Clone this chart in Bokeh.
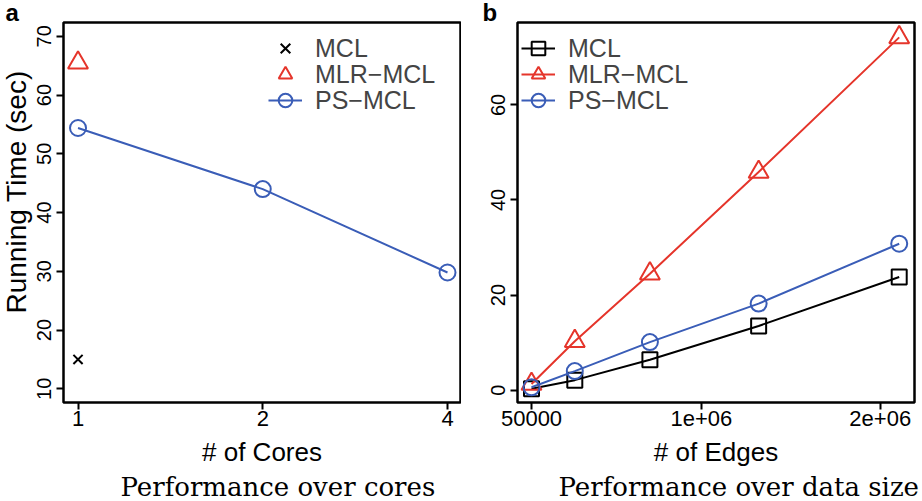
import math
from bokeh.plotting import figure
from bokeh.models import FixedTicker, Legend, LegendItem, Range1d, Title
from bokeh.layouts import row
from bokeh.embed import file_html
from bokeh.resources import INLINE

# ---- data ----
cores = [1, 2, 4]
ps_cores = [54.4, 44.0, 29.8]
mlr_cores_x = [1]
mlr_cores = [65.5]
mcl_cores_x = [1]
mcl_cores = [15.0]

edges = [50000, 292000, 712000, 1320000, 2106000]
mcl_edges = [0.3, 2.1, 6.4, 13.5, 23.8]
mlr_edges = [1.3, 10.3, 24.5, 45.9, 74.2]
ps_edges = [0.6, 4.0, 10.1, 18.2, 30.8]

core_ticks = [1, 2, 4]
core_tick_labels = ["1", "2", "4"]
time_ticks_a = [10, 20, 30, 40, 50, 60, 70]
edge_ticks = [50000, 1000000, 2000000]
edge_tick_labels = ["50000", "1e+06", "2e+06"]
time_ticks_b = [0, 20, 40, 60]

RED = "#e5352b"
BLUE = "#3a5db7"
BLACK = "#000000"
SANS = "Liberation Sans"
SERIF = "DejaVu Serif"


def style(p):
    p.background_fill_color = "white"
    p.border_fill_color = "white"
    p.outline_line_color = "black"
    p.outline_line_width = 2.5
    p.xgrid.visible = False
    p.ygrid.visible = False
    for ax in (p.xaxis[0], p.yaxis[0]):
        ax.axis_line_color = None
        ax.major_tick_line_width = 2
        ax.major_tick_line_color = "black"
        ax.major_tick_out = 7
        ax.major_tick_in = 0
        ax.minor_tick_line_color = None
        ax.major_label_text_font = SANS
        ax.major_label_text_color = "black"
    p.xaxis[0].major_label_text_font_size = "22px"
    p.yaxis[0].major_label_text_font_size = "20px"
    p.yaxis[0].major_label_orientation = "vertical"
    p.yaxis[0].major_label_standoff = 5
    p.xaxis[0].major_label_standoff = 1
    p.xaxis[0].axis_label_standoff = 8
    p.xaxis[0].axis_label_text_font = SANS
    p.xaxis[0].axis_label_text_font_size = "26px"
    p.xaxis[0].axis_label_text_font_style = "normal"
    p.xaxis[0].axis_label_text_color = "black"


def title(p, text, side, size, offset, standoff, font=SANS, bold=False, valign="bottom"):
    p.add_layout(Title(text=text, align="left", offset=offset, standoff=standoff,
                       vertical_align=valign,
                       text_font=font, text_font_size=size,
                       text_font_style="bold" if bold else "normal",
                       text_color="black"), side)


def legend_row(p, item, vx, vy):
    lg = Legend(items=[item], location=(vx, vy), padding=0, margin=0, spacing=0,
                glyph_width=34, glyph_height=34, label_height=34, label_standoff=13,
                label_text_font=SANS, label_text_font_size="25px",
                border_line_alpha=0, background_fill_alpha=0)
    p.add_layout(lg)


# ---- panel a ----
pa = figure(width=461, height=501, x_axis_type="log",
            x_range=Range1d(0.947, 4.2), y_range=Range1d(7.67, 72.36),
            output_backend="svg", toolbar_location=None,
            min_border_left=63, min_border_right=1, min_border_top=10, min_border_bottom=60)
style(pa)
pa.xaxis[0].ticker = FixedTicker(ticks=core_ticks)
pa.xaxis[0].major_label_overrides = dict(zip(core_ticks, core_tick_labels))
pa.xaxis[0].axis_label = "# of Cores"
pa.yaxis[0].ticker = FixedTicker(ticks=time_ticks_a)

a_ps_l = pa.line(cores, ps_cores, line_color=BLUE, line_width=2)
a_ps_s = pa.scatter(cores, ps_cores, marker="circle", size=16, fill_color=None,
                    line_color=BLUE, line_width=2)
a_mlr = pa.scatter(mlr_cores_x, mlr_cores, marker="triangle", size=20, fill_color=None,
                   line_color=RED, line_width=2)
a_mcl = pa.scatter(mcl_cores_x, mcl_cores, marker="x", size=13, line_color=BLACK, line_width=2)

legend_row(pa, LegendItem(label="MCL", renderers=[a_mcl]), 205, 337)
legend_row(pa, LegendItem(label="MLR\u2212MCL", renderers=[a_mlr]), 205, 311)
legend_row(pa, LegendItem(label="PS\u2212MCL", renderers=[a_ps_l, a_ps_s]), 205, 285)

title(pa, "a", "above", "24px", -58, -7.5, bold=True)
title(pa, "Running Time (sec)", "left", "28px", 89, 1, valign="top")
title(pa, "Performance over cores", "below", "26px", 57, 0, font=SERIF)

# ---- panel b ----
pb = figure(width=461, height=501,
            x_range=Range1d(-28390, 2191490), y_range=Range1d(-2.6, 77.33),
            output_backend="svg", toolbar_location=None,
            min_border_left=56, min_border_right=8, min_border_top=10, min_border_bottom=60)
style(pb)
pb.xaxis[0].ticker = FixedTicker(ticks=edge_ticks)
pb.xaxis[0].major_label_overrides = dict(zip(edge_ticks, edge_tick_labels))
pb.xaxis[0].axis_label = "# of Edges"
pb.yaxis[0].ticker = FixedTicker(ticks=time_ticks_b)

b_mcl_l = pb.line(edges, mcl_edges, line_color=BLACK, line_width=2)
b_mcl_s = pb.scatter(edges, mcl_edges, marker="square", size=15, fill_color=None,
                     line_color=BLACK, line_width=2)
b_mlr_l = pb.line(edges, mlr_edges, line_color=RED, line_width=2)
b_mlr_s = pb.scatter(edges, mlr_edges, marker="triangle", size=20, fill_color=None,
                     line_color=RED, line_width=2)
b_ps_l = pb.line(edges, ps_edges, line_color=BLUE, line_width=2)
b_ps_s = pb.scatter(edges, ps_edges, marker="circle", size=16, fill_color=None,
                    line_color=BLUE, line_width=2)

legend_row(pb, LegendItem(label="MCL", renderers=[b_mcl_l, b_mcl_s]), 4, 337)
legend_row(pb, LegendItem(label="MLR\u2212MCL", renderers=[b_mlr_l, b_mlr_s]), 4, 311)
legend_row(pb, LegendItem(label="PS\u2212MCL", renderers=[b_ps_l, b_ps_s]), 4, 285)

title(pb, "b", "above", "24px", -35, -7.5, bold=True)
title(pb, "Performance over data size", "below", "26px", 41, 0, font=SERIF)

layout = row(pa, pb)
open("out.html", "w").write(file_html(layout, INLINE))
